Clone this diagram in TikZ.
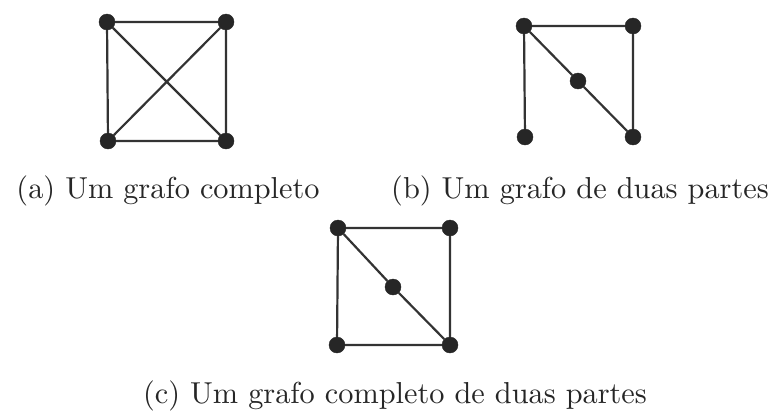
\documentclass[tikz,border=0pt]{standalone}
\usepackage{fontspec}
\setmainfont{lmroman10-regular.otf}
\begin{document}
\begin{tikzpicture}[x=1pt,y=-1pt,
  vtx/.style={circle,fill=black!85,draw=black!85,minimum size=16pt,inner sep=0pt},
  edge/.style={line width=2.2pt,draw=black!80},
  captext/.style={anchor=base,inner sep=0pt,font=\fontsize{30.3}{36}\selectfont,text=black!85}]
\useasboundingbox (0,0) rectangle (783,410);
% (a)
\node[vtx] (a1) at (107,22) {};
\node[vtx] (a2) at (226,22) {};
\node[vtx] (a3) at (108,141) {};
\node[vtx] (a4) at (226,141) {};
\draw[edge] (a1) -- (a2) (a1) -- (a3) (a2) -- (a4) (a3) -- (a4) (a1) -- (a4) (a2) -- (a3);
\node[captext] (ta) at (168,198) {(a) Um grafo completo};
% (b)
\node[vtx] (b1) at (524,26) {};
\node[vtx] (b2) at (633,26) {};
\node[vtx] (b5) at (578,81) {};
\node[vtx] (b3) at (525,137) {};
\node[vtx] (b4) at (633,137) {};
\draw[edge] (b1) -- (b2) (b1) -- (b3) (b2) -- (b4) (b1) -- (b5) (b5) -- (b4);
\node[captext] (tb) at (580,198) {(b) Um grafo de duas partes};
% (c)
\node[vtx] (c1) at (338,228) {};
\node[vtx] (c2) at (450,228) {};
\node[vtx] (c5) at (393,287) {};
\node[vtx] (c3) at (337,345) {};
\node[vtx] (c4) at (450,345) {};
\draw[edge] (c1) -- (c2) (c1) -- (c3) (c2) -- (c4) (c3) -- (c4) (c1) -- (c5) (c5) -- (c4);
\node[captext] (tc) at (395,403) {(c) Um grafo completo de duas partes};
\end{tikzpicture}
\end{document}
